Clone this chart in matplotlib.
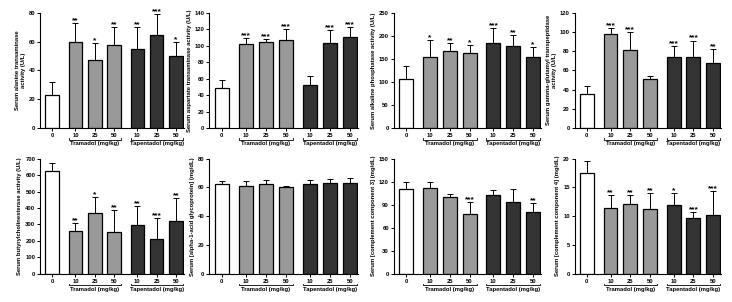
import matplotlib
matplotlib.use("Agg")
import matplotlib.pyplot as plt
import matplotlib.transforms as mtransforms
import numpy as np

plt.rcParams['font.family'] = ['Liberation Sans', 'DejaVu Sans']
plt.rcParams['font.weight'] = 'bold'

doses = ['0', '10', '25', '50', '10', '25', '50']
groups = ['Tramadol (mg/kg)', 'Tapentadol (mg/kg)']
xpos = np.array([0, 1.2, 2.2, 3.2, 4.4, 5.4, 6.4])
colors = ['white', '#999999', '#999999', '#999999', '#333333', '#333333', '#333333']

# alanine transaminase
alt_mean = [23, 60, 47.5, 57.5, 55, 64.5, 50]
alt_err = [9, 13, 11.5, 12.5, 15, 14.5, 9.5]
alt_stars = ['', '**', '*', '**', '**', '***', '*']
# aspartate transaminase
ast_mean = [48.5, 102, 104, 106.5, 52.5, 103, 110.5]
ast_err = [9.5, 7.5, 4, 13.5, 10.5, 16, 12]
ast_stars = ['', '***', '***', '***', '', '***', '***']
# alkaline phosphatase
alp_mean = [106, 155, 166, 162, 185, 177, 155]
alp_err = [29, 36, 19, 18, 32, 25, 20]
alp_stars = ['', '*', '**', '*', '***', '**', '*']
# gamma-glutamyl transpeptidase
ggt_mean = [35, 97.5, 81.5, 50.5, 73.5, 74, 68]
ggt_err = [8.5, 6.5, 18.5, 4, 11.5, 17, 14]
ggt_stars = ['', '***', '***', '', '***', '***', '**']
# butyrylcholinesterase
bche_mean = [625, 258, 372, 252, 295, 212, 322]
bche_err = [45, 50, 96, 138, 118, 125, 140]
bche_stars = ['', '**', '*', '**', '**', '***', '**']
# alpha-1-acid glycoprotein
agp_mean = [62.5, 61, 62.5, 60, 62.5, 63, 63]
agp_err = [2, 3.5, 2.5, 1, 2.5, 3, 3.5]
agp_stars = ['', '', '', '', '', '', '']
# complement component 3
c3_mean = [111, 112, 99.5, 78, 102.5, 94, 81]
c3_err = [9, 7, 5, 15, 6, 16.5, 11]
c3_stars = ['', '', '', '***', '', '', '**']
# complement component 4
c4_mean = [17.5, 11.5, 12.2, 11.2, 12, 9.7, 10.2]
c4_err = [2.1, 2.1, 1.4, 2.8, 2, 1, 4.1]
c4_stars = ['', '**', '**', '**', '*', '***', '***']

panels = [
    (alt_mean, alt_err, alt_stars, 'Serum alanine transaminase\nactivity (U/L)', 80, 20),
    (ast_mean, ast_err, ast_stars, 'Serum aspartate transaminase activity (U/L)', 140, 20),
    (alp_mean, alp_err, alp_stars, 'Serum alkaline phosphatase activity (U/L)', 250, 50),
    (ggt_mean, ggt_err, ggt_stars, 'Serum gamma-glutamyl transpeptidase\nactivity (U/L)', 120, 20),
    (bche_mean, bche_err, bche_stars, 'Serum butyrylcholinesterase activity (U/L)', 700, 100),
    (agp_mean, agp_err, agp_stars, 'Serum [alpha-1-acid glycoprotein] (mg/dL)', 80, 20),
    (c3_mean, c3_err, c3_stars, 'Serum [complement component 3] (mg/dL)', 150, 30),
    (c4_mean, c4_err, c4_stars, 'Serum [complement component 4] (mg/dL)', 20, 5),
]

lefts = [0.055, 0.286, 0.538, 0.785]
widths = [0.196, 0.203, 0.201, 0.200]
bottoms = [0.576, 0.093]
height = 0.382

fig = plt.figure(figsize=(7.32, 3.02), dpi=100)
fs = 4.2

for i, (mean, err, stars, label, ymax, step) in enumerate(panels):
    r, c = divmod(i, 4)
    ax = fig.add_axes([lefts[c], bottoms[r], widths[c], height])
    ax.bar(xpos, mean, width=0.7, color=colors, edgecolor='black', linewidth=0.9, zorder=2)
    ax.errorbar(xpos, mean, yerr=[np.zeros(len(mean)), err], fmt='none', ecolor='black',
                elinewidth=0.7, capsize=2.5, capthick=0.7, zorder=1)
    for x, m, e, s in zip(xpos, mean, err, stars):
        if s:
            ax.text(x, m + e - ymax * 0.01, s, ha='center', va='bottom', fontsize=6,
                    fontweight='bold')
    ax.set_ylim(0, ymax)
    ax.set_yticks(np.arange(0, ymax + step / 2, step))
    ax.set_xlim(-0.62, 6.8)
    ax.set_xticks(xpos)
    ax.set_xticklabels(doses)
    ax.tick_params(axis='both', labelsize=fs, length=2, width=0.7, pad=1.5, colors='black')
    for lbl in ax.get_xticklabels() + ax.get_yticklabels():
        lbl.set_fontweight('bold')
    ax.spines['top'].set_visible(False)
    ax.spines['right'].set_visible(False)
    ax.spines['left'].set_linewidth(0.8)
    ax.spines['bottom'].set_linewidth(0.8)
    ax.set_ylabel(label, fontsize=fs, fontweight='bold', labelpad=2)
    trans = mtransforms.blended_transform_factory(ax.transData, ax.transAxes)
    for g, (a, b) in enumerate([(1, 3), (4, 6)]):
        x0 = xpos[a] - 0.35
        x1 = xpos[b] + 0.35
        ax.plot([x0, x0, x1, x1], [-0.085, -0.1, -0.1, -0.085], color='black', lw=0.6,
                transform=trans, clip_on=False)
        ax.text((x0 + x1) / 2, -0.115, groups[g], ha='center', va='top', fontsize=fs,
                fontweight='bold', transform=trans)

fig.savefig('out.png', dpi=100)
